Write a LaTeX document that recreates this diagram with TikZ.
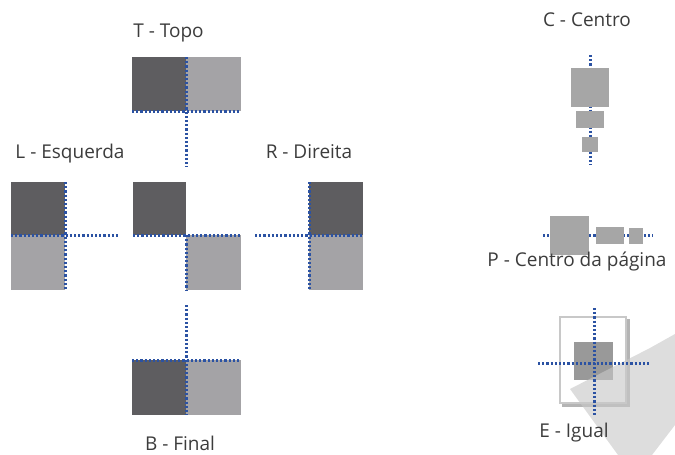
\documentclass[tikz,border=0pt]{standalone}
\usepackage{fontspec}
\setmainfont{Open Sans}
\definecolor{dk}{HTML}{5E5D60}
\definecolor{lt}{HTML}{A4A3A6}
\definecolor{rs}{HTML}{A6A6A6}
\definecolor{esq}{HTML}{999999}
\definecolor{dotblue}{HTML}{2B52A3}
\definecolor{txt}{HTML}{3C3C3C}
\definecolor{wm}{HTML}{C8C8C8}
\definecolor{pageedge}{HTML}{C8C8C8}
\definecolor{pageshadow}{HTML}{B4B4B4}
\tikzset{
  blk/.style={inner sep=0pt, outer sep=0pt, draw=none},
  dotline/.style={draw=dotblue, line width=3pt, dash pattern=on 2.2pt off 2pt},
  lbl/.style={inner sep=0pt, anchor=base, text=txt, font=\fontsize{19}{22}\selectfont},
}
\begin{document}
\begin{tikzpicture}[x=1pt,y=-1pt]
\useasboundingbox (0,0) rectangle (675,455);

% ---------- T ----------
\node[lbl] (tT) at (168.5,37) {T - Topo};
\node[blk, fill=dk, minimum width=54pt, minimum height=54pt] (Tl) at (159,84) {};
\node[blk, fill=lt, minimum width=55pt, minimum height=54pt] (Tr) at (213.5,84) {};
\coordinate (Tend) at (186,167);
\draw[dotline] (Tl.north east) -- (Tend);
\draw[dotline] (Tl.south west) -- (Tr.south east);

% ---------- L ----------
\node[lbl] (tL) at (70,158) {L - Esquerda};
\node[blk, fill=dk, minimum width=54pt, minimum height=53pt] (Ld) at (38,208.5) {};
\node[blk, fill=lt, minimum width=54pt, minimum height=55pt] (Ll) at (38,262.5) {};
\coordinate (Lend) at (120,235);
\draw[dotline] (Ld.north east) -- (Ll.south east);
\draw[dotline] (Ld.south west) -- (Lend);

% ---------- center ----------
\node[blk, fill=dk, minimum width=53pt, minimum height=53pt] (Md) at (159.5,208.5) {};
\node[blk, fill=lt, minimum width=55pt, minimum height=55pt] (Ml) at (213.5,262.5) {};
\coordinate (Mend) at (242,235);
\draw[dotline] (Md.south west) -- (Mend);
\draw[dotline] (Ml.north west) -- (Ml.south west);

% ---------- R ----------
\node[lbl] (tR) at (309,158) {R - Direita};
\node[blk, fill=dk, minimum width=54pt, minimum height=53pt] (Rd) at (336,208.5) {};
\node[blk, fill=lt, minimum width=54pt, minimum height=55pt] (Rl) at (336,262.5) {};
\coordinate (Rstart) at (255,235);
\draw[dotline] (Rd.north west) -- (Rl.south west);
\draw[dotline] (Rstart) -- (Rd.south east);

% ---------- B ----------
\node[blk, fill=dk, minimum width=54pt, minimum height=55pt] (Bl) at (159,387.5) {};
\node[blk, fill=lt, minimum width=55pt, minimum height=55pt] (Br) at (213.5,387.5) {};
\coordinate (Bstart) at (186,305);
\draw[dotline] (Bstart) -- (Bl.south east);
\draw[dotline] (Bl.north west) -- (Br.north east);
\node[lbl] (tB) at (180,450) {B - Final};

% ---------- C ----------
\node[lbl] (tC) at (587,27) {C - Centro};
\coordinate (Ctop) at (590,55);
\coordinate (Cbot) at (590,165);
\draw[dotline] (Ctop) -- (Cbot);
\node[blk, fill=rs, minimum width=38pt, minimum height=39pt] (C1) at (590,87.5) {};
\node[blk, fill=rs, minimum width=28pt, minimum height=17pt] (C2) at (590,119.5) {};
\node[blk, fill=rs, minimum width=16pt, minimum height=15pt] (C3) at (590,144.5) {};

% ---------- P ----------
\coordinate (Pl) at (543,235);
\coordinate (Pr) at (653,235);
\draw[dotline] (Pl) -- (Pr);
\node[blk, fill=rs, minimum width=39pt, minimum height=39pt] (P1) at (569.5,235.5) {};
\node[blk, fill=rs, minimum width=28pt, minimum height=17pt] (P2) at (610,235.5) {};
\node[blk, fill=rs, minimum width=14pt, minimum height=16pt] (P3) at (636,236) {};
\node[lbl] (tP) at (577,266) {P - Centro da página};

% ---------- E ----------
\node[blk, fill=pageshadow, minimum width=68pt, minimum height=88pt] (Esh) at (596,363) {};
\node[blk, fill=white, draw=pageedge, line width=1.5pt, minimum width=66pt, minimum height=86pt] (Epage) at (593,360) {};
\node[blk, fill=esq, minimum width=39pt, minimum height=38pt] (Esq) at (593.5,361) {};
% watermark
\fill[wm, opacity=0.62] (570,389) -- (650,348) -- (675,334) -- (675,425) -- (652,455) -- (618,455) -- cycle;
\coordinate (Et) at (594,308);
\coordinate (Eb) at (594,417);
\coordinate (El) at (538,363);
\coordinate (Er) at (649,363);
\draw[dotline] (El) -- (Er);
\draw[dotline] (Et) -- (Eb);
\node[lbl] (tE) at (574,437) {E - Igual};
\end{tikzpicture}
\end{document}
